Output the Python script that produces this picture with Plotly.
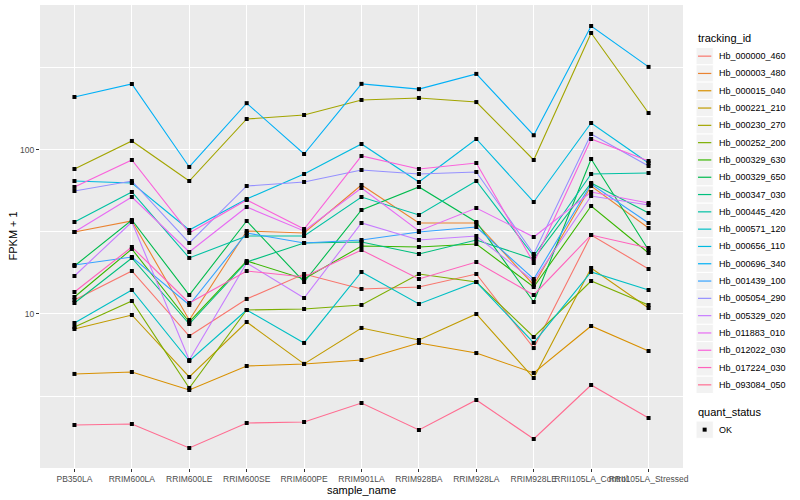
import plotly.graph_objects as go

samples = ["PB350LA", "RRIM600LA", "RRIM600LE", "RRIM600SE", "RRIM600PE", "RRIM901LA",
           "RRIM928BA", "RRIM928LA", "RRIM928LE", "RRII105LA_Control", "RRII105LA_Stressed"]

tracking_ids = ["Hb_000000_460", "Hb_000003_480", "Hb_000015_040", "Hb_000221_210",
                "Hb_000230_270", "Hb_000252_200", "Hb_000329_630", "Hb_000329_650",
                "Hb_000347_030", "Hb_000445_420", "Hb_000571_120", "Hb_000656_110",
                "Hb_000696_340", "Hb_001439_100", "Hb_005054_290", "Hb_005329_020",
                "Hb_011883_010", "Hb_012022_030", "Hb_017224_030", "Hb_093084_050"]

# FPKM + 1, one list per tracking_id, in sample order
hb_000000_460 = [12.17, 18.29, 7.34, 12.35, 17.53, 14.21, 14.61, 17.53, 6.20, 30.32, 18.81]
hb_000003_480 = [31.62, 36.91, 9.19, 32.07, 31.18, 61.17, 35.88, 35.88, 15.03, 60.33, 33.45]
hb_000015_040 = [4.31, 4.43, 3.44, 4.82, 4.96, 5.24, 6.66, 5.78, 4.37, 8.45, 5.95]
hb_000221_210 = [8.10, 9.86, 4.13, 8.94, 4.96, 8.22, 6.94, 10.0, 4.07, 19.08, 10.88]
hb_000230_270 = [76.6, 113.5, 64.7, 154.5, 163.4, 201.8, 207.6, 196.0, 86.9, 517.0, 168.0]
hb_000252_200 = [8.33, 12.00, 3.54, 10.58, 10.73, 11.35, 17.53, 15.67, 7.24, 15.89, 11.35]
hb_000329_630 = [12.70, 24.91, 8.94, 21.05, 16.35, 25.98, 25.62, 26.72, 14.61, 45.56, 23.55]
hb_000329_650 = [19.62, 37.43, 13.06, 36.91, 15.67, 43.07, 59.50, 36.39, 11.83, 88.12, 24.56]
hb_000347_030 = [11.67, 21.96, 8.69, 20.75, 27.10, 27.48, 23.22, 28.27, 21.65, 62.93, 41.28]
hb_000445_420 = [36.39, 55.45, 21.96, 29.89, 29.89, 51.70, 40.15, 64.7, 22.58, 71.39, 72.41]
hb_000571_120 = [8.81, 14.01, 5.17, 10.58, 6.66, 18.04, 11.51, 15.67, 6.66, 18.04, 14.01]
hb_000656_110 = [64.7, 62.93, 32.52, 50.25, 71.39, 108.8, 63.82, 116.7, 48.19, 146.1, 83.31]
hb_000696_340 = [210.5, 252.6, 78.8, 193.0, 94.5, 253.0, 235.0, 291.0, 123.0, 570.0, 321.0]
hb_001439_100 = [19.90, 22.27, 11.35, 31.18, 27.10, 28.27, 31.62, 33.92, 16.35, 62.05, 35.88]
hb_005054_290 = [56.23, 64.7, 27.10, 60.33, 63.82, 75.51, 71.39, 73.43, 23.22, 125.2, 79.87]
hb_005329_020 = [17.05, 36.39, 5.24, 20.46, 12.52, 35.88, 28.27, 29.89, 15.89, 52.43, 46.19]
hb_011883_010 = [31.62, 51.70, 23.88, 44.92, 32.07, 58.66, 32.07, 44.30, 29.48, 55.45, 47.52]
hb_012022_030 = [59.50, 86.9, 31.18, 49.56, 32.98, 91.93, 76.57, 83.31, 20.46, 116.7, 85.68]
hb_017224_030 = [13.62, 25.62, 11.67, 18.29, 16.81, 24.56, 16.35, 20.75, 13.06, 30.32, 25.26]
hb_093084_050 = [2.105, 2.135, 1.524, 2.165, 2.195, 2.867, 1.962, 2.989, 1.729, 3.691, 2.322]

series_values = [hb_000000_460, hb_000003_480, hb_000015_040, hb_000221_210, hb_000230_270,
                 hb_000252_200, hb_000329_630, hb_000329_650, hb_000347_030, hb_000445_420,
                 hb_000571_120, hb_000656_110, hb_000696_340, hb_001439_100, hb_005054_290,
                 hb_005329_020, hb_011883_010, hb_012022_030, hb_017224_030, hb_093084_050]

quant_status = "OK"

colors = ["#F8766D", "#EA8331", "#D89000", "#C09B00", "#A3A500", "#7CAE00", "#39B600",
          "#00BB4E", "#00BF7D", "#00C1A3", "#00BFC4", "#00BAE0", "#00B0F6", "#35A2FF",
          "#9590FF", "#C77CFF", "#E76BF3", "#FA62DB", "#FF62BC", "#FF6C91"]

FONT = "Liberation Sans, Arial, sans-serif"
W, H = 800, 500
ML, MR, MT, MB = 40, 117, 5, 32
PW, PH = W - ML - MR, H - MT - MB


def px_x(px):
    return (px - ML) / PW


def px_y(py):
    return (H - MB - py) / PH


fig = go.Figure()
for name, vals, col in zip(tracking_ids, series_values, colors):
    fig.add_trace(go.Scatter(x=samples, y=vals, mode="lines", name=name,
                             line=dict(color=col, width=1.1), showlegend=False))

all_x, all_y = [], []
for vals in series_values:
    all_x += samples
    all_y += vals
fig.add_trace(go.Scatter(x=all_x, y=all_y, mode="markers", name=quant_status,
                         marker=dict(symbol="square", size=4, color="black"),
                         showlegend=False))

# ggplot-style legend built from shapes and text
shapes, annos = [], []
key = 17.3
lx0 = 696
top0 = 47.5
annos.append(dict(text="tracking_id", x=px_x(lx0), y=px_y(38), xref="paper", yref="paper",
                  xanchor="left", yanchor="middle", showarrow=False,
                  font=dict(size=11, color="black", family=FONT)))
for i, (name, col) in enumerate(zip(tracking_ids, colors)):
    t = top0 + i * key
    shapes.append(dict(type="rect", xref="paper", yref="paper",
                       x0=px_x(lx0), x1=px_x(lx0 + key), y0=px_y(t), y1=px_y(t + key),
                       fillcolor="#F2F2F2", line=dict(color="white", width=1), layer="above"))
    shapes.append(dict(type="line", xref="paper", yref="paper",
                       x0=px_x(lx0 + 2), x1=px_x(lx0 + key - 2),
                       y0=px_y(t + key / 2), y1=px_y(t + key / 2),
                       line=dict(color=col, width=1.2), layer="above"))
    annos.append(dict(text=name, x=px_x(lx0 + key + 4), y=px_y(t + key / 2),
                      xref="paper", yref="paper", xanchor="left", yanchor="middle",
                      showarrow=False, font=dict(size=9, color="black", family=FONT)))

annos.append(dict(text="quant_status", x=px_x(lx0), y=px_y(412), xref="paper", yref="paper",
                  xanchor="left", yanchor="middle", showarrow=False,
                  font=dict(size=11, color="black", family=FONT)))
t = 421
shapes.append(dict(type="rect", xref="paper", yref="paper",
                   x0=px_x(lx0), x1=px_x(lx0 + key), y0=px_y(t), y1=px_y(t + key),
                   fillcolor="#F2F2F2", line=dict(color="white", width=1), layer="above"))
shapes.append(dict(type="rect", xref="paper", yref="paper",
                   x0=px_x(lx0 + key / 2 - 2), x1=px_x(lx0 + key / 2 + 2),
                   y0=px_y(t + key / 2 - 2), y1=px_y(t + key / 2 + 2),
                   fillcolor="black", line=dict(width=0), layer="above"))
annos.append(dict(text=quant_status, x=px_x(lx0 + key + 4), y=px_y(t + key / 2),
                  xref="paper", yref="paper", xanchor="left", yanchor="middle",
                  showarrow=False, font=dict(size=9, color="black", family=FONT)))

# axis titles
annos.append(dict(text="sample_name", x=0.5, y=px_y(490), xref="paper", yref="paper",
                  xanchor="center", yanchor="middle", showarrow=False,
                  font=dict(size=11, color="black", family=FONT)))
annos.append(dict(text="FPKM + 1", x=px_x(12), y=0.5, xref="paper", yref="paper",
                  xanchor="center", yanchor="middle", showarrow=False, textangle=-90,
                  font=dict(size=11, color="black", family=FONT)))

grid = "white"
fig.update_layout(
    width=W, height=H,
    margin=dict(l=ML, r=MR, t=MT, b=MB, autoexpand=False),
    paper_bgcolor="white", plot_bgcolor="#EBEBEB",
    font=dict(family=FONT, size=9, color="black"),
    showlegend=False,
    shapes=shapes, annotations=annos,
    xaxis=dict(
        type="category", range=[-0.6, 10.6], showgrid=True, gridcolor=grid, gridwidth=1.1,
        ticks="outside", ticklen=3, tickcolor="#333333", tickangle=0,
        tickfont=dict(size=8.5, color="#4D4D4D"), zeroline=False, showline=False,
        automargin=False,
    ),
    yaxis=dict(
        type="log", range=[0.061, 2.884], tickvals=[10, 100], ticktext=["10", "100"],
        showgrid=True, gridcolor=grid, gridwidth=1.1,
        minor=dict(tickvals=[3.1623, 31.623, 316.23], showgrid=True, gridcolor=grid,
                   gridwidth=0.6, ticks=""),
        ticks="outside", ticklen=3, tickcolor="#333333",
        tickfont=dict(size=8.5, color="#4D4D4D"), zeroline=False, showline=False,
        automargin=False,
    ),
)

fig.write_html("out.html", config={"displayModeBar": False},
               post_script="document.body.style.margin='0';")
